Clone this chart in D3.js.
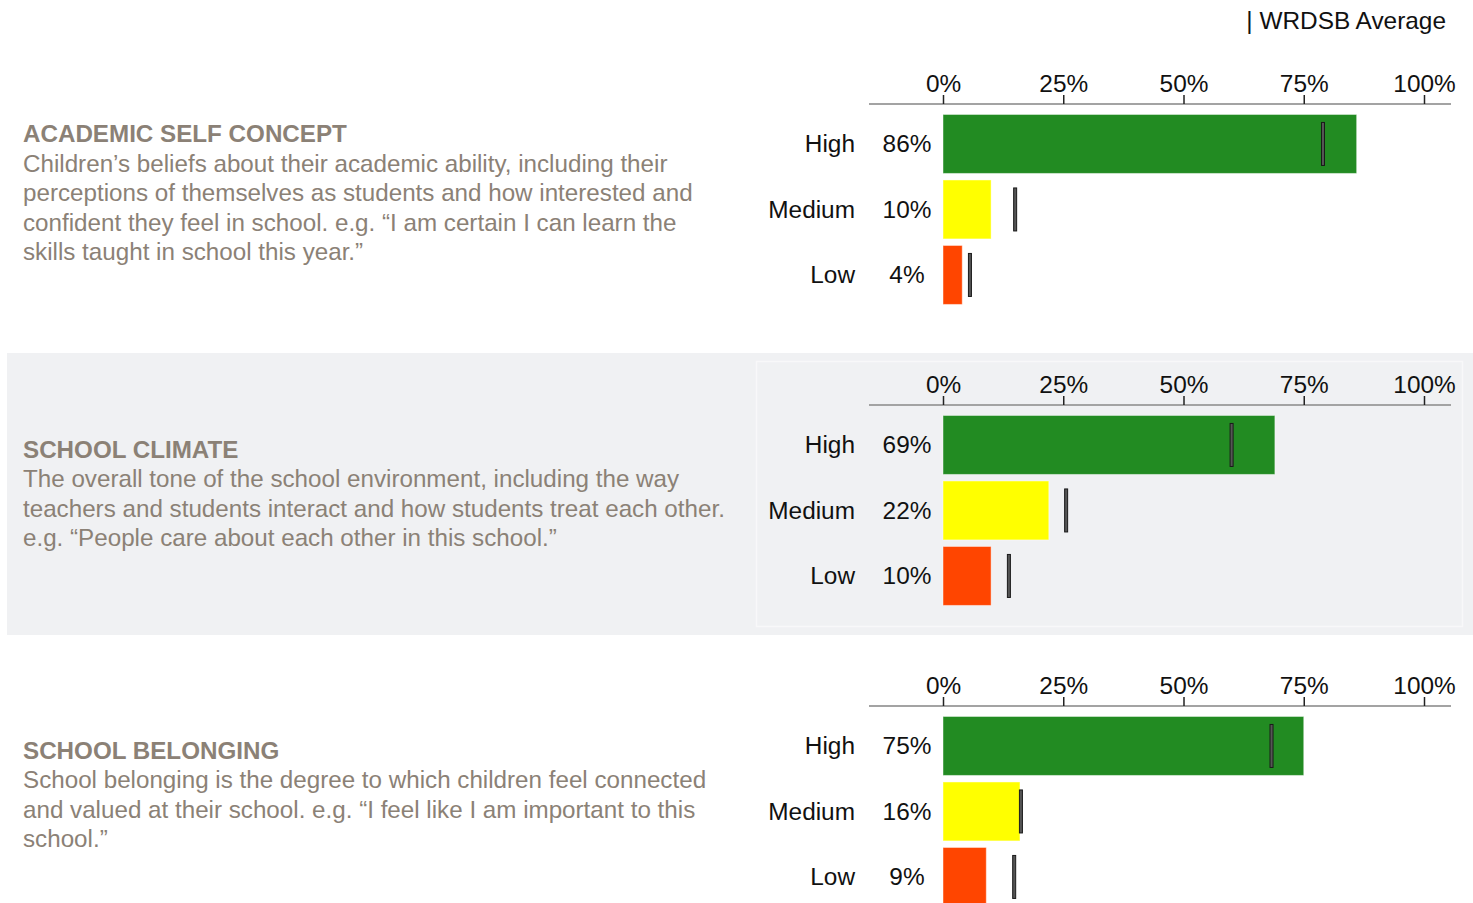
<!DOCTYPE html>
<html>
<head>
<meta charset="utf-8">
<script src="https://cdn.jsdelivr.net/npm/d3@7"></script>
<style>
  html, body { margin: 0; padding: 0; background: #fff; }
  svg { display: block; font-family: "Liberation Sans", Arial, sans-serif; }
</style>
</head>
<body>
<svg id="chart" width="1473" height="903"></svg>
<script>
// Survey domains and their descriptions
const domains = ["ACADEMIC SELF CONCEPT", "SCHOOL CLIMATE", "SCHOOL BELONGING"];
const descriptions = [
  ["Children\u2019s beliefs about their academic ability, including their",
   "perceptions of themselves as students and how interested and",
   "confident they feel in school.  e.g. \u201cI am certain I can learn the",
   "skills taught in school this year.\u201d"],
  ["The overall tone of the school environment, including the way",
   "teachers and students interact and how students treat each other.",
   "e.g.  \u201cPeople care about each other in this school.\u201d"],
  ["School belonging is the degree to which children feel connected",
   "and valued at their school.  e.g. \u201cI feel like I am important to this",
   "school.\u201d"]
];
const levels = ["High", "Medium", "Low"];
// School percentages per domain (High, Medium, Low)
const schoolValues = [
  [86, 10, 4],
  [69, 22, 10],
  [75, 16, 9]
];
// Board-wide (WRDSB) averages per domain
const boardAverages = [
  [79, 15, 5.6],
  [60, 25.6, 13.7],
  [68.3, 16.2, 14.8]
];
const tickValues = [0, 25, 50, 75, 100];
const levelColors = ["#228B22", "#FFFF00", "#FF4500"];
const legendLabel = "| WRDSB Average";

const svg = d3.select("#chart");
const panelStep = 301;
const textColor = "#8b8176";
const labelSize = 24.4;

const x = d3.scaleLinear().domain([0, 100]).range([943, 1424]);
const color = d3.scaleOrdinal().domain(levels).range(levelColors);

// legend
svg.append("text")
  .attr("x", 1446).attr("y", 29)
  .attr("text-anchor", "end")
  .attr("font-size", labelSize)
  .attr("fill", "#111")
  .text(legendLabel);

// shaded background behind the middle domain
svg.append("rect")
  .attr("x", 7).attr("y", 353).attr("width", 1466).attr("height", 282)
  .attr("fill", "#f0f1f3");
svg.append("rect")
  .attr("x", 756.5).attr("y", 361.5).attr("width", 706).attr("height", 265)
  .attr("fill", "none").attr("stroke", "#f8f8f9").attr("stroke-width", 1.5);

domains.forEach((name, k) => {
  const oy = k * panelStep;
  const g = svg.append("g");

  // description block, vertically centred on the panel
  const lh = 29.5;
  const lines = descriptions[k];
  const firstBase = 201 + oy - lines.length * lh / 2;
  g.append("text")
    .attr("x", 23).attr("y", firstBase)
    .attr("font-size", 24.2).attr("font-weight", "bold")
    .attr("fill", textColor)
    .text(name);
  g.selectAll("text.desc").data(lines).join("text")
    .attr("class", "desc")
    .attr("x", 23)
    .attr("y", (d, i) => firstBase + (i + 1) * lh)
    .attr("font-size", 24.2)
    .attr("fill", textColor)
    .text(d => d);

  // axis
  const axisY = 104 + oy;
  g.append("line")
    .attr("x1", 869).attr("x2", 1451)
    .attr("y1", axisY).attr("y2", axisY)
    .attr("stroke", "#a3a3a3").attr("stroke-width", 2);
  const axis = g.append("g")
    .attr("transform", `translate(0,${axisY})`)
    .call(d3.axisTop(x).tickValues(tickValues).tickSize(9).tickSizeOuter(0)
      .tickFormat(d => d + "%"));
  axis.select(".domain").remove();
  axis.selectAll(".tick line").attr("stroke", "#222").attr("stroke-width", 1.5);
  axis.selectAll(".tick text")
    .attr("font-size", labelSize).attr("fill", "#111")
    .attr("font-family", "Liberation Sans, Arial, sans-serif");

  const y = d3.scaleBand().domain(levels)
    .range([111.2 + oy, 111.2 + oy + 3 * 65.5])
    .paddingInner(0.1).paddingOuter(0.05);

  const rows = levels.map((lv, i) => ({
    level: lv, value: schoolValues[k][i], avg: boardAverages[k][i]
  }));

  g.selectAll("rect.bar").data(rows).join("rect")
    .attr("class", "bar")
    .attr("x", x(0))
    .attr("y", d => y(d.level))
    .attr("width", d => x(d.value) - x(0))
    .attr("height", y.bandwidth())
    .attr("fill", d => color(d.level))
    .attr("stroke", "rgba(255,255,255,0.45)")
    .attr("stroke-width", 1);

  g.selectAll("rect.avg").data(rows).join("rect")
    .attr("class", "avg")
    .attr("x", d => x(d.avg) - 1.5)
    .attr("y", d => y(d.level) + y.bandwidth() / 2 - 21.5)
    .attr("width", 3)
    .attr("height", 43)
    .attr("fill", "#555")
    .attr("stroke", "#1a1a1a")
    .attr("stroke-width", 1);

  g.selectAll("text.cat").data(rows).join("text")
    .attr("class", "cat")
    .attr("x", 855)
    .attr("y", d => y(d.level) + y.bandwidth() / 2)
    .attr("dy", "0.35em")
    .attr("text-anchor", "end")
    .attr("font-size", labelSize).attr("fill", "#111")
    .text(d => d.level);

  g.selectAll("text.val").data(rows).join("text")
    .attr("class", "val")
    .attr("x", 907)
    .attr("y", d => y(d.level) + y.bandwidth() / 2)
    .attr("dy", "0.35em")
    .attr("text-anchor", "middle")
    .attr("font-size", labelSize).attr("fill", "#111")
    .text(d => d.value + "%");
});
</script>
</body>
</html>
